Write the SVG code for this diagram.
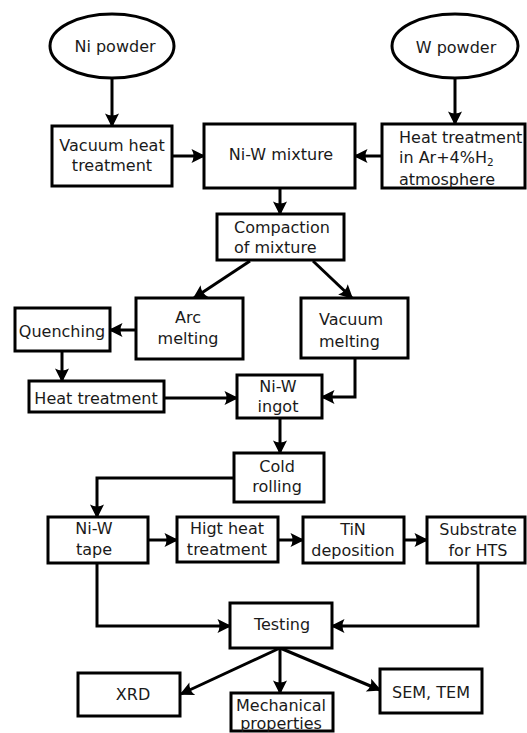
<svg xmlns="http://www.w3.org/2000/svg" width="527" height="733" viewBox="0 0 527 733">
<style>
.n rect, .n ellipse { fill: #fff; stroke: #000; stroke-width: 3; }
.n text { font-family: "DejaVu Sans", "Liberation Sans", sans-serif; font-size: 16px; fill: #1a1a1a; text-anchor: middle; }
.n text.l { text-anchor: start; }
#edges path { fill: none; stroke: #000; stroke-width: 3; marker-end: url(#ah); }
</style>
<defs>
<marker id="ah" markerUnits="userSpaceOnUse" markerWidth="30" markerHeight="30" refX="0" refY="0" viewBox="-15 -15 30 30" orient="auto" overflow="visible">
<path d="M1.5,0 L-12.5,-7 Q-8.5,0 -12.5,7 Z" fill="#000"/>
</marker>
</defs>
<rect width="527" height="733" fill="#fff"/>
<g id="edges">
<path d="M112,79 V126"/>
<path d="M455,79 V124"/>
<path d="M172,156 H204"/>
<path d="M382,156 H355"/>
<path d="M280,188 V214"/>
<path d="M250,261 L194,298"/>
<path d="M313,261 L352,298"/>
<path d="M136,330 H110"/>
<path d="M62,351 V381"/>
<path d="M164,398 H237"/>
<path d="M355,358 V397 H322"/>
<path d="M280,418 V453"/>
<path d="M234,478 H97 V517"/>
<path d="M148,540 H177"/>
<path d="M278,540 H303"/>
<path d="M404,540 H427"/>
<path d="M97,563 V626 H230"/>
<path d="M478,563 V626 H332"/>
<path d="M280,648 L181,694"/>
<path d="M280,648 V693"/>
<path d="M280,648 L380,690"/>
</g>
<g id="ni-powder" class="n"><ellipse cx="112" cy="46" rx="62" ry="32"/><text x="115" y="52">Ni powder</text></g>
<g id="w-powder" class="n"><ellipse cx="455" cy="46" rx="63" ry="32"/><text x="456" y="53">W powder</text></g>
<g id="vacuum-heat" class="n"><rect x="52" y="126" width="120" height="60"/><text x="112" y="151">Vacuum heat</text><text x="112" y="171">treatment</text></g>
<g id="niw-mixture" class="n"><rect x="204" y="124" width="151" height="64"/><text x="281" y="160">Ni-W mixture</text></g>
<g id="heat-ar" class="n"><rect x="382" y="124" width="143" height="64"/><text class="l" x="399" y="143">Heat treatment</text><text class="l" x="399" y="163">in Ar+4%H<tspan font-size="10.5" dy="3">2</tspan></text><text class="l" x="399" y="185">atmosphere</text></g>
<g id="compaction" class="n"><rect x="217" y="214" width="127" height="46"/><text class="l" x="234" y="233">Compaction</text><text class="l" x="234" y="253">of mixture</text></g>
<g id="arc-melting" class="n"><rect x="136" y="298" width="107" height="61"/><text x="188" y="323">Arc</text><text x="188" y="344">melting</text></g>
<g id="vacuum-melting" class="n"><rect x="301" y="298" width="107" height="60"/><text class="l" x="319" y="325">Vacuum</text><text class="l" x="319" y="347">melting</text></g>
<g id="quenching" class="n"><rect x="15" y="308" width="95" height="43"/><text x="62" y="337">Quenching</text></g>
<g id="heat-treatment" class="n"><rect x="29" y="381" width="135" height="31"/><text x="96" y="404">Heat treatment</text></g>
<g id="niw-ingot" class="n"><rect x="237" y="375" width="85" height="43"/><text x="278" y="392">Ni-W</text><text x="278" y="412">ingot</text></g>
<g id="cold-rolling" class="n"><rect x="234" y="453" width="90" height="49"/><text x="277" y="472">Cold</text><text x="277" y="492">rolling</text></g>
<g id="niw-tape" class="n"><rect x="48" y="517" width="100" height="46"/><text x="94" y="534">Ni-W</text><text x="94" y="555">tape</text></g>
<g id="higt-heat" class="n"><rect x="177" y="517" width="101" height="45"/><text x="227" y="534">Higt heat</text><text x="227" y="555">treatment</text></g>
<g id="tin" class="n"><rect x="303" y="517" width="101" height="46"/><text x="353" y="535">TiN</text><text x="353" y="556">deposition</text></g>
<g id="substrate" class="n"><rect x="427" y="517" width="98" height="46"/><text x="478" y="535">Substrate</text><text x="478" y="556">for HTS</text></g>
<g id="testing" class="n"><rect x="230" y="603" width="102" height="45"/><text x="282" y="630">Testing</text></g>
<g id="xrd" class="n"><rect x="78" y="673" width="102" height="43"/><text x="133" y="700">XRD</text></g>
<g id="mechanical" class="n"><rect x="231" y="693" width="102" height="38"/><text x="281" y="711">Mechanical</text><text x="281" y="729">properties</text></g>
<g id="sem-tem" class="n"><rect x="380" y="669" width="102" height="44"/><text x="431" y="698">SEM, TEM</text></g>
</svg>
